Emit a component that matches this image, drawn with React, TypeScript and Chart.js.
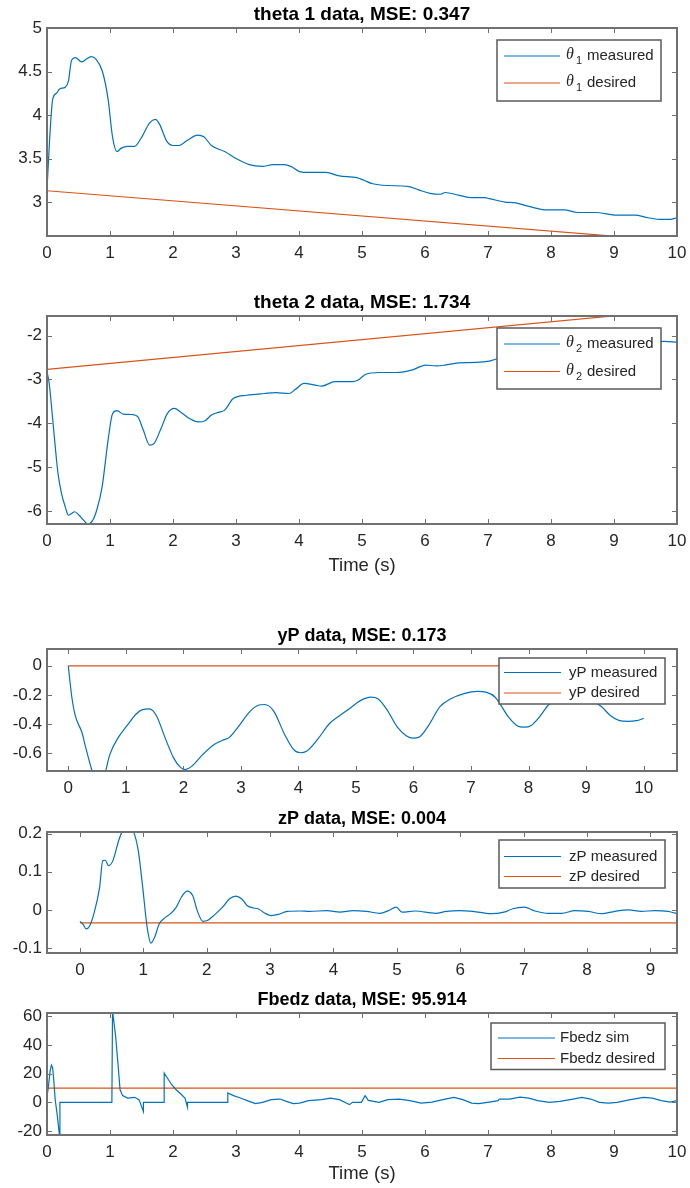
import React, { useEffect, useRef } from 'react';
import { Chart, registerables } from 'chart.js';

Chart.register(...registerables);

const FONT = "'Liberation Sans', Arial, Helvetica, sans-serif";
const TEXT = '#262626';
const AXIS = '#707070';
const BLUE = '#0072BD';
const ORANGE = '#D95319';

// ---------- theta 1 ----------
const T_THETA1 = [0, 0.04, 0.09, 0.15, 0.2, 0.29, 0.34, 0.39, 0.45, 0.55, 0.62, 0.7, 0.78, 0.88, 0.97, 1.04, 1.11, 1.18, 1.28, 1.39, 1.49, 1.63, 1.72, 1.79, 1.9, 2.0, 2.09, 2.23, 2.39, 2.49, 2.61, 2.82, 3.0, 3.21, 3.42, 3.59, 3.77, 3.87, 4.01, 4.15, 4.43, 4.64, 4.92, 5.03, 5.17, 5.41, 5.73, 5.9, 6.08, 6.25, 6.32, 6.53, 6.74, 6.95, 7.02, 7.27, 7.44, 7.65, 7.93, 8.21, 8.42, 8.7, 9.05, 9.33, 9.54, 9.75, 9.89, 10];
const THETA1_MEAS = [3.14, 3.7, 4.18, 4.25, 4.3, 4.32, 4.39, 4.63, 4.66, 4.61, 4.64, 4.67, 4.64, 4.5, 4.18, 3.75, 3.58, 3.62, 3.64, 3.64, 3.73, 3.91, 3.95, 3.89, 3.7, 3.65, 3.65, 3.71, 3.77, 3.75, 3.65, 3.58, 3.5, 3.43, 3.41, 3.43, 3.43, 3.41, 3.35, 3.34, 3.34, 3.3, 3.28, 3.25, 3.21, 3.19, 3.18, 3.14, 3.1, 3.09, 3.11, 3.08, 3.05, 3.05, 3.04, 3.0, 2.99, 2.95, 2.91, 2.91, 2.88, 2.88, 2.85, 2.85, 2.82, 2.8, 2.8, 2.82];
const T_THETA1_DES = [0, 10];
const THETA1_DES = [3.13, 2.55];

// ---------- theta 2 ----------
const T_THETA2 = [0, 0.035, 0.077, 0.126, 0.175, 0.23, 0.29, 0.34, 0.39, 0.44, 0.51, 0.58, 0.65, 0.72, 0.79, 0.875, 0.97, 1.04, 1.11, 1.21, 1.35, 1.44, 1.53, 1.63, 1.7, 1.81, 1.91, 2.02, 2.12, 2.26, 2.4, 2.51, 2.61, 2.72, 2.82, 2.96, 3.17, 3.45, 3.63, 3.84, 3.94, 4.08, 4.26, 4.36, 4.57, 4.85, 4.94, 5.06, 5.27, 5.55, 5.8, 6.01, 6.18, 6.32, 6.53, 6.81, 7.02, 7.16, 7.5, 8.0, 8.5, 9.0, 9.5, 9.8, 10];
const THETA2_MEAS = [-2.82, -3.09, -3.7, -4.46, -5.15, -5.6, -5.91, -6.1, -6.06, -6.02, -6.1, -6.21, -6.3, -6.23, -5.98, -5.45, -4.38, -3.78, -3.71, -3.79, -3.8, -3.85, -4.16, -4.5, -4.46, -4.12, -3.78, -3.66, -3.74, -3.89, -3.97, -3.94, -3.81, -3.75, -3.7, -3.43, -3.36, -3.32, -3.3, -3.32, -3.23, -3.09, -3.13, -3.15, -3.05, -3.05, -3.01, -2.88, -2.84, -2.84, -2.78, -2.67, -2.69, -2.67, -2.62, -2.61, -2.58, -2.52, -2.45, -2.38, -2.32, -2.26, -2.18, -2.13, -2.15];
const T_THETA2_DES = [0, 10];
const THETA2_DES = [-2.77, -1.41];

// ---------- yP ----------
const T_YP = [0, 0.06, 0.12, 0.24, 0.3, 0.36, 0.42, 0.53, 0.65, 0.72, 0.87, 1.02, 1.18, 1.29, 1.41, 1.53, 1.68, 1.83, 1.95, 2.03, 2.14, 2.33, 2.53, 2.68, 2.8, 2.95, 3.14, 3.3, 3.41, 3.57, 3.76, 3.91, 4.03, 4.14, 4.34, 4.53, 4.72, 4.88, 5.07, 5.26, 5.38, 5.53, 5.72, 5.88, 5.99, 6.11, 6.26, 6.46, 6.65, 6.88, 7.11, 7.26, 7.42, 7.65, 7.8, 7.92, 8.04, 8.19, 8.34, 8.55, 8.75, 8.95, 9.11, 9.27, 9.42, 9.58, 9.73, 9.88, 10];
const YP_MEAS = [0, -0.21, -0.34, -0.46, -0.555, -0.645, -0.73, -0.88, -0.72, -0.61, -0.49, -0.41, -0.33, -0.3, -0.295, -0.34, -0.49, -0.63, -0.695, -0.71, -0.69, -0.61, -0.54, -0.51, -0.49, -0.42, -0.32, -0.27, -0.265, -0.31, -0.47, -0.57, -0.595, -0.585, -0.5, -0.4, -0.34, -0.295, -0.24, -0.215, -0.225, -0.295, -0.42, -0.48, -0.495, -0.485, -0.41, -0.28, -0.225, -0.19, -0.175, -0.18, -0.215, -0.35, -0.41, -0.42, -0.41, -0.35, -0.27, -0.2, -0.18, -0.2, -0.24, -0.28, -0.34, -0.375, -0.38, -0.375, -0.36];
const T_YP_DES = [0, 10];
const YP_DES = [0, 0];

// ---------- zP ----------
const T_ZP = [0, 0.05, 0.1, 0.15, 0.22, 0.31, 0.36, 0.4, 0.45, 0.52, 0.61, 0.66, 0.75, 0.85, 0.92, 0.99, 1.06, 1.12, 1.18, 1.25, 1.34, 1.43, 1.52, 1.6, 1.69, 1.78, 1.85, 1.94, 2.01, 2.11, 2.25, 2.36, 2.46, 2.55, 2.64, 2.74, 2.81, 2.92, 3.02, 3.13, 3.27, 3.48, 3.62, 3.9, 4.1, 4.31, 4.52, 4.73, 4.87, 4.99, 5.08, 5.29, 5.61, 5.78, 5.99, 6.2, 6.48, 6.69, 6.83, 7.01, 7.18, 7.39, 7.6, 7.81, 8.02, 8.23, 8.44, 8.65, 8.86, 9.07, 9.28, 9.45, 9.9];
const ZP_MEAS = [-0.03, -0.038, -0.05, -0.043, -0.01, 0.059, 0.129, 0.13, 0.116, 0.129, 0.181, 0.203, 0.225, 0.203, 0.155, 0.059, -0.045, -0.087, -0.071, -0.037, -0.021, -0.01, 0.007, 0.033, 0.049, 0.037, -0.002, -0.03, -0.028, -0.015, 0.007, 0.029, 0.036, 0.029, 0.011, 0.005, 0.003, -0.009, -0.015, -0.012, -0.004, -0.003, -0.004, -0.002, -0.006, -0.002, -0.004, -0.009, -0.002, 0.007, -0.006, -0.003, -0.009, -0.004, -0.002, -0.004, -0.01, -0.006, 0.003, 0.007, -0.003, -0.009, -0.009, -0.002, -0.004, -0.01, -0.004, 0, -0.004, -0.002, -0.004, -0.01, -0.008];
const T_ZP_DES = [0, 10];
const ZP_DES = [-0.034, -0.034];

// ---------- Fbedz ----------
const T_FB = [0, 0.02, 0.05, 0.07, 0.09, 0.11, 0.13, 0.16, 0.19, 0.205, 0.205, 1.03, 1.04, 1.09, 1.13, 1.16, 1.2, 1.28, 1.39, 1.46, 1.49, 1.53, 1.53, 1.86, 1.86, 1.91, 1.98, 2.05, 2.12, 2.19, 2.23, 2.23, 2.87, 2.87, 2.96, 3.07, 3.21, 3.31, 3.42, 3.56, 3.7, 3.8, 3.91, 4.01, 4.15, 4.36, 4.5, 4.64, 4.75, 4.8, 4.85, 4.99, 5.05, 5.1, 5.27, 5.41, 5.59, 5.76, 5.94, 6.11, 6.32, 6.46, 6.6, 6.74, 6.85, 7.02, 7.16, 7.18, 7.34, 7.51, 7.65, 7.79, 7.97, 8.14, 8.35, 8.49, 8.63, 8.77, 8.91, 9.05, 9.26, 9.47, 9.61, 9.75, 9.89, 10];
const FB_SIM = [4, 10, 22, 26, 24, 14, 2, -8, -20, -26, 0, 0, 64, 46, 25, 8.8, 4.7, 3, 3.5, 1.9, -1.6, -6.3, 0, 0, 20.5, 17, 12.3, 8.8, 6, 3, -3.3, 0, 0, 6.5, 4.7, 3, 0.7, -0.9, 0, 1.9, 2.3, 0.7, -0.9, -0.5, 1.2, 1.9, 3, 1.9, -0.5, -1.6, 0, 0, 4.7, 1.4, 0, 1.9, 2.3, 1.2, -0.5, 0.2, 2.3, 3.5, 1.9, -0.5, -0.9, 0.2, 1.2, 2.3, 2.3, 3.7, 3, 1.2, 0, 0.7, 2.3, 3.5, 2.3, 0, -0.5, 0, 1.9, 3.5, 3, 1.2, 0.2, 1.2];
const T_FB_DES = [0, 10];
const FB_DES = [10, 10];

// ---------- ticks ----------
const X_TICKS_10 = [0, 1, 2, 3, 4, 5, 6, 7, 8, 9, 10];
const X_TICKS_9 = [0, 1, 2, 3, 4, 5, 6, 7, 8, 9];
const Y_TICKS_THETA1 = [3, 3.5, 4, 4.5, 5];
const Y_TICKS_THETA2 = [-6, -5, -4, -3, -2];
const Y_TICKS_YP = [-0.6, -0.4, -0.2, 0];
const Y_TICKS_ZP = [-0.1, 0, 0.1, 0.2];
const Y_TICKS_FB = [-20, 0, 20, 40, 60];

const TITLES = ['theta 1 data, MSE: 0.347', 'theta 2 data, MSE: 1.734', 'yP data, MSE: 0.173', 'zP data, MSE: 0.004', 'Fbedz data, MSE: 95.914'];
const LEG_THETA1 = ['θ_1 measured', 'θ_1 desired'];
const LEG_THETA2 = ['θ_2 measured', 'θ_2 desired'];
const LEG_YP = ['yP measured', 'yP desired'];
const LEG_ZP = ['zP measured', 'zP desired'];
const LEG_FB = ['Fbedz sim', 'Fbedz desired'];
const X_LABEL = 'Time (s)';

const fmt = (v: number) => String(v);

type Series = { label: string; x: number[]; y: number[]; color: string; smooth: boolean };
type Legend = { right: number; top: number; w: number; h: number; rows: number[]; lineX0: number; lineX1: number; textX: number };
type Spec = {
  title: string; titleSize: number; titleOffset: number;
  top: number; plotH: number; xAxisH: number;
  xMin: number; xMax: number; yMin: number; yMax: number;
  xTicks: number[]; yTicks: number[];
  xTitle?: string; xTitleGap?: number;
  series: Series[]; legend: Legend;
};

const TITLE_H = 28;
const LEFT_W = 47;
const RIGHT_PAD = 13;

const SPECS: Spec[] = [
  {
    title: TITLES[0], titleSize: 19, titleOffset: 15, top: 28, plotH: 208, xAxisH: 30,
    xMin: 0, xMax: 10, yMin: 2.61, yMax: 5, xTicks: X_TICKS_10, yTicks: Y_TICKS_THETA1,
    series: [
      { label: LEG_THETA1[0], x: T_THETA1, y: THETA1_MEAS, color: BLUE, smooth: true },
      { label: LEG_THETA1[1], x: T_THETA1_DES, y: THETA1_DES, color: ORANGE, smooth: false },
    ],
    legend: { right: 16, top: 12, w: 164, h: 61, rows: [16, 43], lineX0: 7, lineX1: 63, textX: 69 },
  },
  {
    title: TITLES[1], titleSize: 19, titleOffset: 15, top: 316, plotH: 208, xAxisH: 55,
    xMin: 0, xMax: 10, yMin: -6.3, yMax: -1.55, xTicks: X_TICKS_10, yTicks: Y_TICKS_THETA2,
    xTitle: X_LABEL, xTitleGap: 42,
    series: [
      { label: LEG_THETA2[0], x: T_THETA2, y: THETA2_MEAS, color: BLUE, smooth: true },
      { label: LEG_THETA2[1], x: T_THETA2_DES, y: THETA2_DES, color: ORANGE, smooth: false },
    ],
    legend: { right: 16, top: 12, w: 164, h: 61, rows: [16, 43.5], lineX0: 7, lineX1: 63, textX: 69 },
  },
  {
    title: TITLES[2], titleSize: 18, titleOffset: 15, top: 649, plotH: 122, xAxisH: 30,
    xMin: -0.37, xMax: 10.58, yMin: -0.72, yMax: 0.115, xTicks: X_TICKS_10, yTicks: Y_TICKS_YP,
    series: [
      { label: LEG_YP[0], x: T_YP, y: YP_MEAS, color: BLUE, smooth: true },
      { label: LEG_YP[1], x: T_YP_DES, y: YP_DES, color: ORANGE, smooth: false },
    ],
    legend: { right: 12, top: 9, w: 166, h: 46, rows: [14.5, 35], lineX0: 5, lineX1: 62, textX: 70 },
  },
  {
    title: TITLES[3], titleSize: 18, titleOffset: 15.5, top: 832, plotH: 121, xAxisH: 30,
    xMin: -0.52, xMax: 9.42, yMin: -0.113, yMax: 0.204, xTicks: X_TICKS_9, yTicks: Y_TICKS_ZP,
    series: [
      { label: LEG_ZP[0], x: T_ZP, y: ZP_MEAS, color: BLUE, smooth: true },
      { label: LEG_ZP[1], x: T_ZP_DES, y: ZP_DES, color: ORANGE, smooth: false },
    ],
    legend: { right: 12, top: 7.5, w: 166, h: 48, rows: [16.5, 36.5], lineX0: 5, lineX1: 62, textX: 70 },
  },
  {
    title: TITLES[4], titleSize: 18, titleOffset: 15, top: 1013, plotH: 122, xAxisH: 52,
    xMin: 0, xMax: 10, yMin: -22.8, yMax: 62.4, xTicks: X_TICKS_10, yTicks: Y_TICKS_FB,
    xTitle: X_LABEL, xTitleGap: 38.5,
    series: [
      { label: LEG_FB[0], x: T_FB, y: FB_SIM, color: BLUE, smooth: false },
      { label: LEG_FB[1], x: T_FB_DES, y: FB_DES, color: ORANGE, smooth: false },
    ],
    legend: { right: 12, top: 10, w: 174, h: 46.5, rows: [15, 35.5], lineX0: 7, lineX1: 64, textX: 69 },
  },
];

function drawLegendLabel(ctx: CanvasRenderingContext2D, label: string, x: number, y: number) {
  ctx.fillStyle = TEXT;
  ctx.textBaseline = 'middle';
  ctx.textAlign = 'left';
  const m = label.match(/^θ_(\d)\s(.*)$/);
  if (m) {
    ctx.font = "italic 16px 'Liberation Serif', 'DejaVu Serif', serif";
    ctx.fillText('θ', x, y - 1);
    ctx.font = `11px ${FONT}`;
    ctx.fillText(m[1], x + 10, y + 5);
    ctx.font = `15px ${FONT}`;
    ctx.fillText(m[2], x + 21, y);
  } else {
    ctx.font = `15px ${FONT}`;
    ctx.fillText(label, x, y);
  }
}

const matlabAxes = {
  id: 'matlabAxes',
  afterDatasetsDraw(chart: any, _args: any, opts: any) {
    const ctx: CanvasRenderingContext2D = chart.ctx;
    const { left, right, top, bottom } = chart.chartArea;
    const xs = chart.scales.x;
    const ys = chart.scales.y;
    const TL = 5;
    ctx.save();
    ctx.strokeStyle = AXIS;
    ctx.lineWidth = 1;
    ctx.beginPath();
    xs.ticks.forEach((t: any) => {
      const p = Math.round(xs.getPixelForValue(t.value)) + 0.5;
      ctx.moveTo(p, bottom); ctx.lineTo(p, bottom - TL);
      ctx.moveTo(p, top); ctx.lineTo(p, top + TL);
    });
    ys.ticks.forEach((t: any) => {
      const p = Math.round(ys.getPixelForValue(t.value)) + 0.5;
      ctx.moveTo(left, p); ctx.lineTo(left + TL, p);
      ctx.moveTo(right, p); ctx.lineTo(right - TL, p);
    });
    ctx.stroke();
    ctx.lineWidth = 2;
    ctx.strokeRect(left, top, right - left, bottom - top);

    const lg: Legend | undefined = opts && opts.legend;
    if (lg) {
      const bx = Math.round(right - lg.right - lg.w);
      const by = Math.round(top + lg.top);
      ctx.fillStyle = '#ffffff';
      ctx.fillRect(bx, by, lg.w, lg.h);
      ctx.lineWidth = 1.5;
      ctx.strokeStyle = '#5a5a5a';
      ctx.strokeRect(bx, by, lg.w, lg.h);
      chart.data.datasets.forEach((ds: any, i: number) => {
        const ry = by + lg.rows[i];
        ctx.strokeStyle = ds.borderColor;
        ctx.lineWidth = 1.2;
        ctx.beginPath();
        ctx.moveTo(bx + lg.lineX0, ry);
        ctx.lineTo(bx + lg.lineX1, ry);
        ctx.stroke();
        drawLegendLabel(ctx, ds.label, bx + lg.textX, ry);
      });
    }
    ctx.restore();
  },
};

function Subplot({ spec }: { spec: Spec }) {
  const ref = useRef<HTMLCanvasElement>(null);
  const canvasTop = spec.top - TITLE_H;
  const height = TITLE_H + spec.plotH + spec.xAxisH;

  useEffect(() => {
    const canvas = ref.current;
    if (!canvas) return;
    const tickFont = { family: FONT, size: 17, lineHeight: '20px' };
    const padTop = spec.titleOffset - 10;
    const chart = new Chart(canvas, {
      type: 'line',
      data: {
        datasets: spec.series.map((s) => ({
          label: s.label,
          data: s.x.slice(0, Math.min(s.x.length, s.y.length)).map((x, i) => ({ x, y: s.y[i] })),
          borderColor: s.color,
          backgroundColor: s.color,
          borderWidth: 1.2,
          pointRadius: 0,
          fill: false,
          tension: 0,
          cubicInterpolationMode: s.smooth ? 'monotone' : 'default',
        })),
      },
      options: {
        animation: false,
        responsive: false,
        maintainAspectRatio: false,
        events: [],
        layout: { padding: { left: 0, right: RIGHT_PAD, top: 0, bottom: 0 }, autoPadding: false },
        plugins: {
          legend: { display: false },
          tooltip: { enabled: false },
          title: {
            display: true,
            text: spec.title,
            fullSize: false,
            color: '#000000',
            font: { family: FONT, size: spec.titleSize, weight: 'bold', lineHeight: '20px' },
            padding: { top: padTop, bottom: TITLE_H - 20 - padTop },
          },
          matlabAxes: { legend: spec.legend },
        } as any,
        scales: {
          x: {
            type: 'linear',
            min: spec.xMin,
            max: spec.xMax,
            grid: { display: false, drawTicks: false },
            border: { display: false },
            afterBuildTicks: (s: any) => { s.ticks = spec.xTicks.map((v) => ({ value: v })); },
            afterFit: (s: any) => {
              s.height = spec.xAxisH;
              s.paddingLeft = 0;
              s.paddingRight = 0;
            },
            ticks: { autoSkip: false, maxRotation: 0, minRotation: 0, padding: 7.5, color: TEXT, font: tickFont, callback: (v: any) => fmt(Number(v)) },
            title: spec.xTitle
              ? {
                  display: true,
                  text: spec.xTitle,
                  color: TEXT,
                  font: { family: FONT, size: 18.5, lineHeight: '22px' },
                  padding: { top: 0, bottom: spec.xAxisH - (spec.xTitleGap || 0) - 11 },
                }
              : { display: false },
          },
          y: {
            type: 'linear',
            min: spec.yMin,
            max: spec.yMax,
            grid: { display: false, drawTicks: false },
            border: { display: false },
            afterBuildTicks: (s: any) => { s.ticks = spec.yTicks.map((v) => ({ value: v })); },
            afterFit: (s: any) => {
              s.width = LEFT_W;
              s.paddingTop = 0;
              s.paddingBottom = 0;
            },
            ticks: { autoSkip: false, padding: 5, color: TEXT, font: tickFont, callback: (v: any) => fmt(Number(v)) },
          },
        } as any,
      },
      plugins: [matlabAxes],
    } as any);
    return () => chart.destroy();
  }, [spec]);

  return (
    <canvas
      ref={ref}
      width={690}
      height={height}
      style={{ position: 'absolute', left: 0, top: canvasTop, width: 690, height, display: 'block' }}
    />
  );
}

export default function App() {
  return (
    <div style={{ position: 'absolute', left: 0, top: 0, width: 690, height: 1188, background: '#ffffff', overflow: 'hidden' }}>
      {SPECS.map((s, i) => (
        <Subplot key={i} spec={s} />
      ))}
    </div>
  );
}
